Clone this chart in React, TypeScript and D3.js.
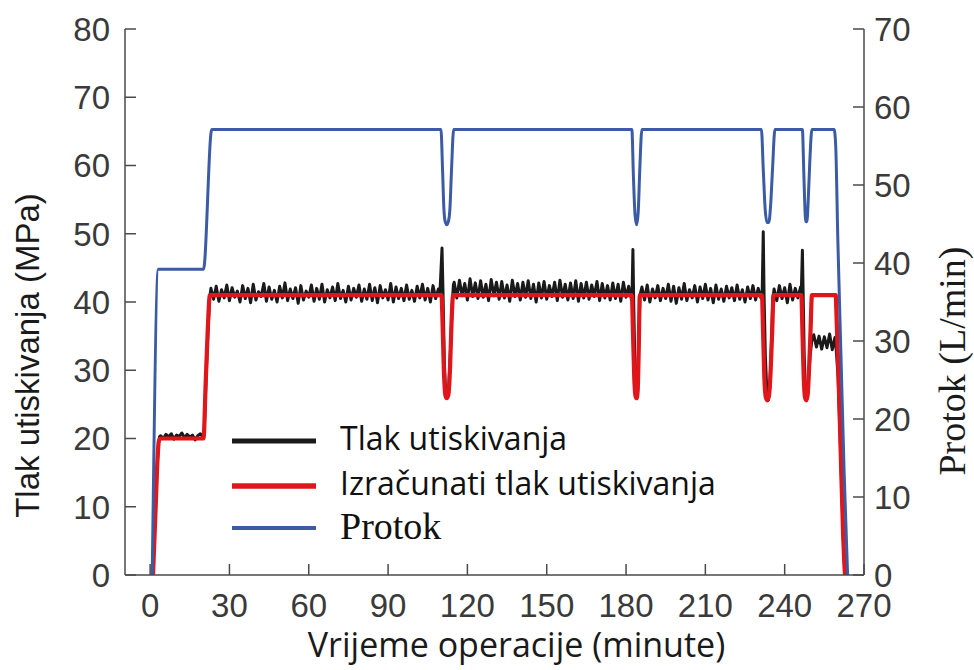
import React from "react";
import * as d3 from "d3";

// ---------- DATA ----------
const X_TICKS = [0, 30, 60, 90, 120, 150, 180, 210, 240, 270];
const LEFT_TICKS = [0, 10, 20, 30, 40, 50, 60, 70, 80];
const RIGHT_TICKS = [0, 10, 20, 30, 40, 50, 60, 70];

const LEGEND_LABELS = ["Tlak utiskivanja", "Izračunati tlak utiskivanja", "Protok"];

// Protok (L/min), right axis: [minute, value]
const flowT = [0.8, 3.1, 20.2, 23.3, 110.0, 110.6, 111.1, 111.6, 112.2, 112.8, 113.4, 114.0, 114.8,
  182.2, 182.8, 183.4, 184.0, 184.6, 185.2, 186.0,
  231.2, 231.9, 232.6, 233.3, 234.0, 234.7, 235.4, 236.3,
  246.7, 247.2, 247.6, 248.0, 248.4, 248.9, 249.5, 250.3,
  258.7, 259.3, 260.1, 261.3, 262.5, 263.8];
const flowV = [0, 39.2, 39.2, 57.1, 57.1, 52, 47, 45.3, 44.9, 45.3, 47, 52, 57.1,
  57.1, 51, 46.2, 44.9, 46.5, 52, 57.1,
  57.1, 52, 47, 45.2, 45.2, 47.5, 52, 57.1,
  57.1, 52, 47.5, 45.3, 45.3, 48, 53, 57.1,
  57.1, 55, 43, 28, 13, 0];

// Izračunati tlak utiskivanja (MPa), left axis
const calcT = [1.1, 1.6, 2.2, 2.8, 3.3, 4.0, 20.2, 21.0, 21.8, 22.6,
  110.2, 110.6, 111.1, 111.7, 112.2, 112.8, 113.4, 114.0, 114.6,
  182.2, 182.6, 183.1, 183.6, 184.0, 184.4, 184.8, 185.2,
  231.4, 231.8, 232.3, 232.9, 233.5, 234.1, 234.7, 235.3, 235.8,
  246.3, 246.7, 247.2, 247.7, 248.2, 248.7, 249.2, 249.8, 250.3,
  259.3, 259.6, 260.3, 261.2, 262.1, 262.8];
const calcV = [0, 5, 11, 17, 19.6, 20, 20, 28, 36, 41,
  41, 37, 30, 26.3, 25.9, 26.4, 30, 37, 41,
  41, 36, 29, 26.2, 25.9, 27, 33, 41,
  41, 36, 29, 26, 25.6, 26.4, 30, 36, 41,
  41, 36, 29, 26, 25.6, 26.4, 30, 36, 41,
  41, 38, 30, 18, 6, 0];

// Tlak utiskivanja (MPa), measured: transitions [minute, value]
const measuredKnots: [number, number][] = [
  [0.8, 0], [1.6, 7], [2.4, 14], [3.2, 19.5], [3.6, 20.3],
  [20.4, 20.5], [21.0, 27], [21.8, 35], [22.5, 40.5],
  [109.6, 41.2], [110.4, 47.9], [110.8, 41], [111.3, 31], [111.8, 26.5], [112.3, 25.9], [112.9, 27], [113.6, 33], [114.3, 40], [114.7, 42.5],
  [182.3, 41.5], [182.6, 47.7], [182.9, 40], [183.4, 30], [183.9, 26], [184.4, 28], [184.9, 36], [185.3, 41],
  [231.5, 41.5], [231.9, 50.3], [232.2, 41], [232.7, 32], [233.3, 26.5], [233.8, 25.6], [234.4, 27.5], [235.0, 34], [235.5, 40.5],
  [246.3, 41.5], [246.7, 47.6], [247.0, 41], [247.4, 32], [247.9, 26.5], [248.3, 25.6], [248.9, 28], [249.6, 32], [250.3, 34.5],
  [259.5, 33], [260.2, 29], [261.0, 20], [261.8, 10], [262.4, 3], [262.8, 0],
];
// measured noisy plateaus, one reading per minute from the given start minute
const plateau20Start = 4;
const plateau20 = [20.4, 20.0, 20.6, 20.2, 20.7, 19.9, 20.5, 20.3, 20.8, 20.1, 20.6, 20.2, 20.5, 19.8, 20.4, 20.7, 20.2];
const plateauAStart = 23;
const plateauA = [
  42.0, 40.4, 42.3, 40.1, 41.8, 40.6, 42.5, 40.2, 42.1, 40.7,
  41.6, 40.0, 42.4, 40.5, 42.0, 39.9, 42.6, 40.3, 41.5, 40.8,
  42.7, 40.1, 42.2, 40.4, 41.7, 40.0, 42.3, 40.6, 42.8, 40.2,
  41.9, 40.5, 42.1, 39.8, 42.4, 40.3, 41.6, 40.7, 42.5, 40.1,
  42.0, 40.4, 42.6, 40.0, 41.8, 40.6, 42.2, 40.2, 42.7, 40.5,
  41.7, 40.0, 42.3, 40.3, 42.0, 40.7, 42.5, 40.1, 41.9, 40.4,
  42.6, 40.2, 42.1, 39.9, 42.4, 40.6, 41.8, 40.3, 42.7, 40.0,
  42.2, 40.5, 42.0, 40.2, 42.5, 40.4, 41.7, 40.1, 42.3, 40.6,
  42.6, 40.3, 42.0, 40.0, 42.4, 40.5, 41.9,
];
const plateauBStart = 115;
const plateauB = [
  42.9, 40.6, 43.2, 40.9, 42.7, 40.3, 43.4, 40.8, 42.8, 40.5,
  43.1, 40.7, 42.6, 40.2, 43.3, 40.9, 42.9, 40.4, 43.0, 40.6,
  42.5, 40.1, 43.2, 40.8, 42.7, 40.3, 42.9, 40.7, 43.1, 40.5,
  42.6, 40.0, 42.8, 40.6, 43.0, 40.4, 42.4, 40.8, 42.9, 40.2,
  43.2, 40.7, 42.6, 40.3, 42.8, 40.5, 43.1, 40.1, 42.7, 40.6,
  42.9, 40.4, 42.5, 40.8, 43.0, 40.2, 42.7, 40.6, 42.4, 40.3,
  42.8, 40.5, 42.6, 40.1, 42.9, 40.7, 42.3, 40.4,
];
const plateauCStart = 186;
const plateauC = [
  42.2, 40.3, 42.5, 40.0, 41.9, 40.6, 42.4, 40.2, 42.0, 40.5,
  42.6, 40.1, 42.3, 39.8, 42.1, 40.4, 42.7, 40.2, 41.8, 40.6,
  42.4, 40.0, 42.2, 40.5, 42.6, 40.3, 42.0, 39.9, 42.5, 40.4,
  41.9, 40.1, 42.3, 40.6, 42.1, 40.2, 42.5, 40.4, 41.8, 40.0,
  42.2, 40.5, 42.4, 40.3, 42.0, 40.6,
];
const plateauDStart = 236;
const plateauD = [41.9, 40.2, 42.4, 40.5, 42.1, 39.9, 42.6, 40.3, 42.0, 40.6, 42.2];
const plateauEStart = 251;
const plateauE = [35.2, 33.4, 35.0, 33.1, 34.9, 33.3, 35.3, 33.0, 34.8];

// ---------- BUILD ----------
const plateaus: [number, number[]][] = [
  [plateau20Start, plateau20],
  [plateauAStart, plateauA],
  [plateauBStart, plateauB],
  [plateauCStart, plateauC],
  [plateauDStart, plateauD],
  [plateauEStart, plateauE],
];
const measured: [number, number][] = [...measuredKnots];
plateaus.forEach(([s, arr]) => arr.forEach((v, i) => measured.push([s + i, v])));
measured.sort((a, b) => a[0] - b[0]);

const flow: [number, number][] = flowT.map((t, i) => [t, flowV[i]]);
const calc: [number, number][] = calcT.map((t, i) => [t, calcV[i]]);

export default function App() {
  const W = 974;
  const H = 670;
  const x = d3.scaleLinear().domain([-9.5, 270]).range([125, 864]);
  const yL = d3.scaleLinear().domain([0, 80]).range([575, 29]);
  const yR = d3.scaleLinear().domain([0, 70]).range([575, 29]);

  const lineL = d3.line<[number, number]>().x((d) => x(d[0])).y((d) => yL(d[1]));
  const lineLs = d3.line<[number, number]>().x((d) => x(d[0])).y((d) => yL(d[1])).curve(d3.curveMonotoneX);
  const lineR = d3.line<[number, number]>().x((d) => x(d[0])).y((d) => yR(d[1])).curve(d3.curveMonotoneX);

  const axisColor = "#4a4a4a";
  const tickText = "#3a3a3a";
  const x0 = x.range()[0];
  const x1 = x.range()[1];
  const yBase = yL(0);
  const tickLen = 11;

  const colors = ["#1a1a1a", "#e0161b", "#3b5ba5"];
  const legendWidths = [5, 5.5, 4];
  const legendY = [441, 486, 528];
  const legendBase = [450, 495, 539];

  return (
    <svg width={W} height={H} style={{ position: "absolute", left: 0, top: 0, background: "#fff" }}>
      <rect x={0} y={0} width={W} height={H} fill="#fff" />
      {/* data */}
      <path d={lineL(measured) || ""} fill="none" stroke={colors[0]} strokeWidth={3} strokeLinejoin="round" />
      <path d={lineLs(calc) || ""} fill="none" stroke={colors[1]} strokeWidth={4.2} strokeLinejoin="round" />
      <path d={lineR(flow) || ""} fill="none" stroke={colors[2]} strokeWidth={3} strokeLinejoin="round" />

      {/* axes */}
      <line x1={x0} y1={yL(80)} x2={x0} y2={yBase} stroke={axisColor} strokeWidth={1.5} />
      <line x1={x1} y1={yR(70)} x2={x1} y2={yBase} stroke={axisColor} strokeWidth={1.5} />
      <line x1={x0} y1={yBase} x2={x1} y2={yBase} stroke={axisColor} strokeWidth={1.5} />

      {LEFT_TICKS.map((t) => (
        <g key={"l" + t}>
          <line x1={x0} x2={x0 + tickLen} y1={yL(t)} y2={yL(t)} stroke={axisColor} strokeWidth={1.5} />
          <text x={110} y={yL(t)} dy="0.36em" textAnchor="end" fontFamily="'Liberation Sans', Arial, sans-serif" fontSize={33} fill={tickText}>
            {t}
          </text>
        </g>
      ))}
      {RIGHT_TICKS.map((t) => (
        <g key={"r" + t}>
          <line x1={x1 - tickLen} x2={x1} y1={yR(t)} y2={yR(t)} stroke={axisColor} strokeWidth={1.5} />
          <text x={874} y={yR(t)} dy="0.36em" textAnchor="start" fontFamily="'Liberation Sans', Arial, sans-serif" fontSize={33} fill={tickText}>
            {t}
          </text>
        </g>
      ))}
      {X_TICKS.map((t) => (
        <g key={"x" + t}>
          <line x1={x(t)} x2={x(t)} y1={yBase} y2={yBase - tickLen} stroke={axisColor} strokeWidth={1.5} />
          <text x={x(t)} y={617} textAnchor="middle" fontFamily="'Liberation Sans', Arial, sans-serif" fontSize={33} fill={tickText}>
            {t}
          </text>
        </g>
      ))}

      {/* axis titles */}
      <text
        transform="translate(38.5,355.5) rotate(-90)"
        textAnchor="middle"
        fontFamily="'Liberation Sans', Arial, sans-serif"
        fontSize={33}
        fill="#1a1a1a"
      >
        Tlak utiskivanja (MPa)
      </text>
      <text
        transform="translate(965,361) rotate(-90)"
        textAnchor="middle"
        fontFamily="'Liberation Serif', 'Times New Roman', serif"
        fontSize={38}
        fill="#1a1a1a"
      >
        Protok (L/min)
      </text>
      <text x={516.5} y={657} textAnchor="middle" fontFamily="'Open Sans', sans-serif" fontSize={34} fill="#1a1a1a">
        Vrijeme operacije (minute)
      </text>

      {/* legend */}
      {LEGEND_LABELS.map((lab, i) => (
        <g key={lab}>
          <line x1={232} x2={316} y1={legendY[i]} y2={legendY[i]} stroke={colors[i]} strokeWidth={legendWidths[i]} />
          <text
            x={340}
            y={legendBase[i]}
            fontFamily={i === 2 ? "'Liberation Serif', 'Times New Roman', serif" : "'Open Sans', sans-serif"}
            fontSize={i === 2 ? 38 : 32}
            fill="#111"
          >
            {lab}
          </text>
        </g>
      ))}
    </svg>
  );
}
